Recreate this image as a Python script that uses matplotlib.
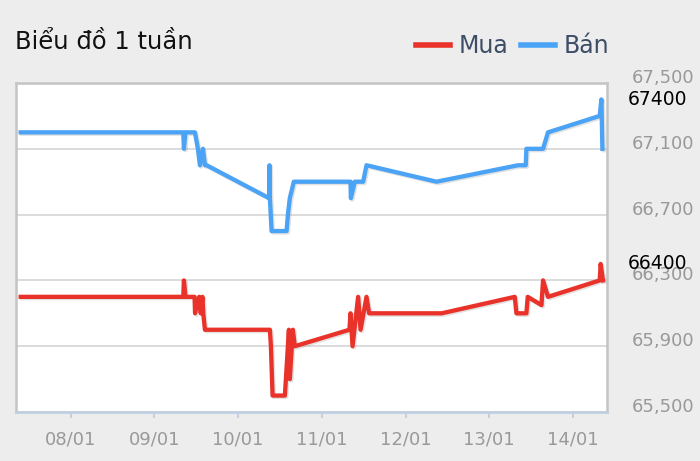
import matplotlib
matplotlib.use("Agg")
import matplotlib.pyplot as plt
import matplotlib.patheffects as pe
from matplotlib.ticker import FuncFormatter

# x = day of January (fractional), values in thousand VND
ban_days = [7.403, 9.345, 9.353, 9.371, 9.484, 9.520, 9.544, 9.580, 9.604, 9.624,
            10.371, 10.375, 10.380, 10.400, 10.579, 10.595, 10.618, 10.666,
            11.343, 11.347, 11.394, 11.494, 11.534, 12.370, 13.344, 13.436,
            13.444, 13.643, 13.702, 14.320, 14.340, 14.352]
ban_values = [67200, 67200, 67100, 67200, 67200, 67100, 67000, 67100, 67000, 67000,
              66800, 67000, 66800, 66600, 66600, 66700, 66800, 66900,
              66900, 66800, 66900, 66900, 67000, 66900, 67000, 67000,
              67100, 67100, 67200, 67300, 67400, 67100]

mua_days = [7.403, 9.345, 9.353, 9.371, 9.480, 9.486, 9.535, 9.554, 9.574, 9.584, 9.604,
            10.380, 10.392, 10.412, 10.559, 10.607, 10.618, 10.654, 10.678,
            11.330, 11.343, 11.367, 11.434, 11.463, 11.534, 11.565, 12.433,
            13.305, 13.325, 13.444, 13.460, 13.624, 13.643, 13.702, 14.320, 14.331, 14.359]
mua_values = [66200, 66200, 66300, 66200, 66200, 66100, 66200, 66100, 66200, 66100, 66000,
              66000, 65900, 65600, 65600, 66000, 65700, 66000, 65900,
              66000, 66100, 65900, 66200, 66000, 66200, 66100, 66100,
              66200, 66100, 66100, 66200, 66150, 66300, 66200, 66300, 66400, 66300]

tick_days = [8, 9, 10, 11, 12, 13, 14]
tick_labels = ["08/01", "09/01", "10/01", "11/01", "12/01", "13/01", "14/01"]
y_ticks = [65500, 65900, 66300, 66700, 67100, 67500]
current_ban = 67400
current_mua = 66400

RED = "#e9322a"
BLUE = "#4aa3f5"

fig = plt.figure(figsize=(7, 4.61), dpi=100, facecolor="#ededed")
ax = fig.add_axes([16 / 700, 1 - 412 / 461, (607 - 16) / 700, (412 - 83) / 461])
ax.set_facecolor("white")

shadow = [pe.SimpleLineShadow(offset=(1, -1), shadow_color="#888888", alpha=0.25),
          pe.Normal()]
ax.plot(mua_days, mua_values, color=RED, lw=3.1, solid_joinstyle="round",
        label="Mua", path_effects=shadow, zorder=3)
ax.plot(ban_days, ban_values, color=BLUE, lw=3.1, solid_joinstyle="round",
        label="Bán", path_effects=shadow, zorder=3)

ax.set_xlim(7.347, 14.407)
ax.set_ylim(65500, 67500)

ax.set_xticks(tick_days, tick_labels)
ax.set_yticks(y_ticks)
ax.yaxis.set_major_formatter(FuncFormatter(lambda v, _: f"{int(v):,}"))

ax.grid(axis="y", color="#d9d9d9", lw=1.3, zorder=0)
ax.tick_params(axis="y", left=False, right=False, labelleft=False, labelright=True,
               pad=14, labelsize=13, labelcolor="#999999")
ax.tick_params(axis="x", direction="out", length=4, width=1.5, color="#c0d0e0",
               pad=9, labelsize=13, labelcolor="#999999")
# y labels sit on top of their grid line
for tick in ax.yaxis.get_major_ticks():
    tick.label2.set_verticalalignment("baseline")

for side in ["left", "right", "top"]:
    ax.spines[side].set_color("#c4c4c4")
    ax.spines[side].set_linewidth(1.8)
ax.spines["bottom"].set_color("#c0d0e0")
ax.spines["bottom"].set_linewidth(2)

# current price labels on the right
trans = ax.get_yaxis_transform()
ax.text(1.035, current_ban, str(current_ban), transform=trans, fontsize=13.5,
        color="black", va="center", ha="left")
ax.text(1.035, current_mua, str(current_mua), transform=trans, fontsize=13.5,
        color="black", va="center", ha="left")

fig.text(15 / 700, 1 - 42 / 461, "Biểu đồ 1 tuần", fontsize=17.5, color="#111111",
         va="center", ha="left")

leg = ax.legend(loc="center right", bbox_to_anchor=(609 / 700, 1 - 46 / 461),
                bbox_transform=fig.transFigure, ncol=2, frameon=False, fontsize=17,
                handlelength=1.45, handletextpad=0.35, columnspacing=0.55,
                borderpad=0, borderaxespad=0)
for t in leg.get_texts():
    t.set_color("#3d4d65")
for h in leg.get_lines():
    h.set_linewidth(4)
    h.set_path_effects([])

fig.savefig("out.png", dpi=100, facecolor=fig.get_facecolor())
